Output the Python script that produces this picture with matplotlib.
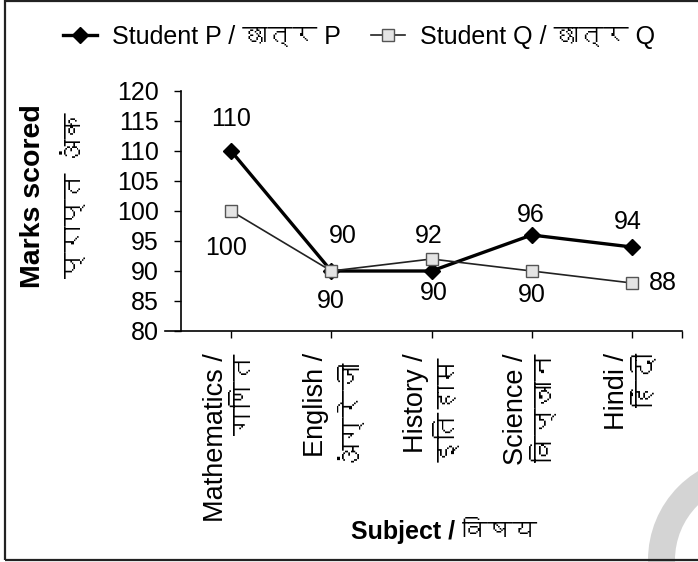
import matplotlib
matplotlib.use('Agg')
import matplotlib.pyplot as plt
from matplotlib import font_manager, ft2font
from matplotlib.patches import Rectangle, Wedge

# Data
subjects = ['Mathematics /\nगणित', 'English /\nअंग्रेजी', 'History /\nइतिहास',
            'Science /\nविज्ञान', 'Hindi /\nहिंदी']
student_p = [110, 90, 90, 96, 94]
student_q = [100, 90, 92, 90, 88]
y_ticks = [80, 85, 90, 95, 100, 105, 110, 115, 120]

# label offsets in pixels (dx, dy up), purely placement of the value labels
p_offsets = [(0, 32), (0, -30), (2, -22), (-1, 20), (-4, 25)]
q_offsets = [(-5, -37), (12, 35), (-3, 23), (0, -24), (31, 0)]


# look for an installed font that has Devanagari glyphs
def find_devanagari():
    for f in font_manager.fontManager.ttflist:
        try:
            cmap = ft2font.FT2Font(f.fname).get_charmap()
        except Exception:
            continue
        if 0x0915 in cmap and 0x0930 in cmap:
            return f.name
    return None


families = ['Liberation Sans']
dev_font = find_devanagari()
if dev_font:
    families.append(dev_font)
families.append('DejaVu Sans')
plt.rcParams['font.family'] = families

W, H = 698, 562
fig = plt.figure(figsize=(W / 100, H / 100), dpi=100)
ax = fig.add_axes([181 / W, 1 - 331 / H, (682 - 181) / W, (331 - 91) / H])

x = list(range(len(subjects)))
ax.plot(x, student_p, color='black', lw=2.4, marker='D', markersize=8,
        markerfacecolor='black', markeredgecolor='black', label='Student P / छात्र P', zorder=3)
ax.plot(x, student_q, color='#222222', lw=1.2, marker='s', markersize=9,
        markerfacecolor='#e4e4e4', markeredgecolor='#555555', label='Student Q / छात्र Q', zorder=4)

for xi, v, (dx, dy) in zip(x, student_p, p_offsets):
    ax.annotate(str(v), (xi, v), xytext=(dx, dy), textcoords='offset pixels',
                ha='center', va='center', fontsize=18)
for xi, v, (dx, dy) in zip(x, student_q, q_offsets):
    ax.annotate(str(v), (xi, v), xytext=(dx, dy), textcoords='offset pixels',
                ha='center', va='center', fontsize=18)

ax.set_xlim(-0.5, 4.5)
ax.set_ylim(80, 120)
ax.set_yticks(y_ticks)
ax.set_yticklabels([str(t) for t in y_ticks], fontsize=18)
ax.set_xticks(x + [4.5])
ax.set_xticklabels(subjects + [''], rotation=90, fontsize=19.5, va='top', ha='center',
                   multialignment='right', linespacing=1.2)
ax.tick_params(axis='y', direction='out', length=5, width=1, pad=11)
ax.tick_params(axis='x', direction='out', length=5, width=1, pad=11)
ax.spines['top'].set_visible(False)
ax.spines['right'].set_visible(False)
ax.spines['left'].set_linewidth(1.2)
ax.spines['bottom'].set_linewidth(1.2)
ax.spines['bottom'].set_bounds(-0.66, 4.5)

# axis titles
fig.text(33 / W, 1 - 196 / H, 'Marks scored', rotation=90, ha='center', va='center',
         fontsize=20.5, fontweight='bold')
fig.text(75 / W, 1 - 195 / H, 'प्राप्त अंक', rotation=90, ha='center', va='center',
         fontsize=19, fontweight='bold')
fig.text(444 / W, 1 - 530 / H, 'Subject / विषय', ha='center', va='center',
         fontsize=18, fontweight='bold')

ax.legend(loc='center', bbox_to_anchor=(359 / W, 1 - 37 / H), bbox_transform=fig.transFigure,
          ncol=2, frameon=False, fontsize=18, handlelength=1.35, handletextpad=0.6,
          columnspacing=1.2, borderaxespad=0)

# watermark arc and outer frame
px = fig.dpi_scale_trans
ring = Wedge((752 / 100, (H - 560) / 100), 1.04, 90, 270, width=0.27,
             transform=px, facecolor='#d4d4d4', edgecolor='none', zorder=0)
fig.patches.append(ring)
frame = Rectangle((5 / W, 1 - 560 / H), 1.0, (560 - 1) / H, transform=fig.transFigure,
                  fill=False, edgecolor='#222222', lw=1.6, clip_on=False)
fig.patches.append(frame)

plt.savefig('out.png', dpi=100)
